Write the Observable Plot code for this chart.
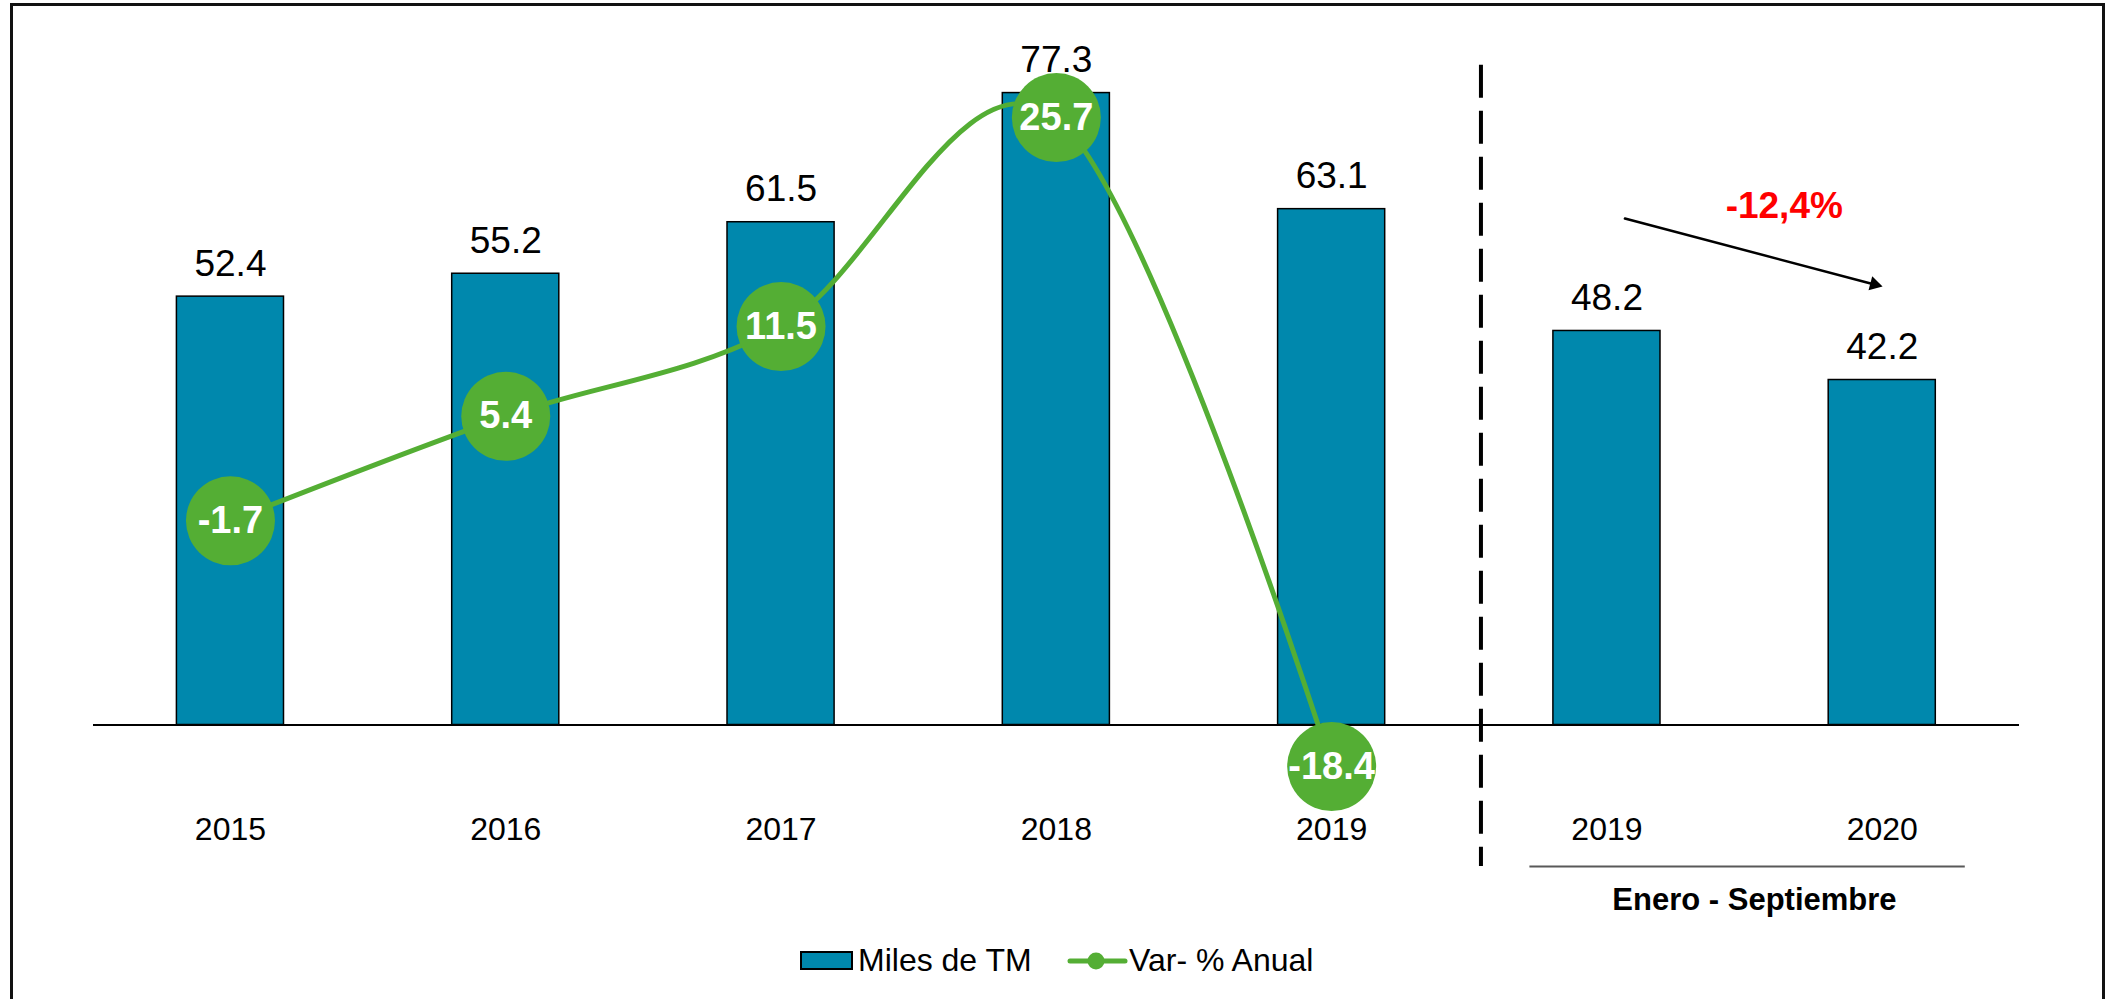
<!DOCTYPE html>
<html>
<head>
<meta charset="utf-8">
<script src="https://cdn.jsdelivr.net/npm/d3@7"></script>
<script src="https://cdn.jsdelivr.net/npm/@observablehq/plot@0.6"></script>
<style>
  html, body { margin: 0; padding: 0; background: #fff; }
  body { width: 2110px; height: 999px; overflow: hidden; position: relative;
         font-family: "Liberation Sans", Arial, sans-serif; }
  #chart { position: absolute; left: 0; top: 0; }
  #frame { position: absolute; left: 10px; top: 3px; width: 2095px; height: 1010px;
           border: 3px solid #111; box-sizing: border-box; pointer-events: none; }
  #legend { position: absolute; left: 0; top: 940px; width: 2110px; height: 50px; }
  .lg-item { position: absolute; font-size: 32px; line-height: 32px; color: #000; white-space: nowrap; }
  .lg-swatch { position: absolute; box-sizing: border-box; border: 2px solid #000; background: #0088AD; }
</style>
</head>
<body>
<div id="chart"></div>
<div id="legend">
  <div class="lg-swatch" style="left:800px; top:11px; width:53px; height:19px;"></div>
  <div class="lg-item" id="lg1" style="left:858px; top:4px;"></div>
  <svg style="position:absolute; left:1067px; top:10px;" width="62" height="22">
    <line x1="3" y1="11" x2="58" y2="11" stroke="#54AE34" stroke-width="5" stroke-linecap="round"></line>
    <circle cx="29" cy="11" r="8.5" fill="#54AE34"></circle>
  </svg>
  <div class="lg-item" id="lg2" style="left:1129px; top:4px;"></div>
</div>
<div id="frame"></div>
<script>
// ---- Data ----
const categories = ["2015", "2016", "2017", "2018", "2019", "2019 Ene-Sep", "2020 Ene-Sep"];
const tickLabels = ["2015", "2016", "2017", "2018", "2019", "2019", "2020"];
const milesTM = [52.4, 55.2, 61.5, 77.3, 63.1, 48.2, 42.2];
const varCategories = ["2015", "2016", "2017", "2018", "2019"];
const varPct = [-1.7, 5.4, 11.5, 25.7, -18.4];
const seriesNames = ["Miles de TM", "Var- % Anual"];
const periodLabel = "Enero - Septiembre";
const changeLabel = "-12,4%";

// ---- Styles ----
const barColor = "#0088AD";
const lineColor = "#54AE34";
const font = "'Liberation Sans', Arial, sans-serif";

// Secondary (percentage) axis aligned onto the primary value axis
const pctAxis = {zero: 28.04, perPoint: 1.8};
const pctToPrimary = p => pctAxis.zero + pctAxis.perPoint * p;

const barRows = categories.map((c, i) => ({cat: c, value: milesTM[i]}));
const varRows = varCategories.map((c, i) => ({cat: c, pct: varPct[i]}));
const labelOf = new Map(categories.map((c, i) => [c, tickLabels[i]]));

document.getElementById("lg1").textContent = seriesNames[0];
document.getElementById("lg2").textContent = seriesNames[1];

// annotation anchors (in data units of the primary axis)
const sepRow = [{x: categories[5], y1: 80.7, y2: -17.3}];
const bracketRow = [{x1: categories[5], x2: categories[6], y: -17.3}];
const periodRow = [{x: categories[5], y: -22.6, text: periodLabel}];
const arrowRow = [{x1: categories[5], y1: 62.54, x2: categories[6], y2: 53.64}];
const changeRow = [{x: categories[6], y: 62.07, text: changeLabel}];

const plot = Plot.plot({
  width: 2110,
  height: 940,
  marginLeft: 93,
  marginRight: 91,
  marginTop: 0,
  marginBottom: 215.5,
  style: {fontFamily: font, background: "transparent", overflow: "visible", color: "#000"},
  x: {domain: categories, range: [8.2, 2103.5], padding: 0.611, align: 0.5, round: false, label: null, axis: null},
  y: {domain: [0, 80], range: [724.5, 70.5], axis: null},
  marks: [
    Plot.barY(barRows, {x: "cat", y: "value", fill: barColor, stroke: "#000", strokeWidth: 1.5}),
    Plot.ruleY([0], {stroke: "#000", strokeWidth: 2}),
    Plot.text(barRows, {x: "cat", y: "value", text: d => d.value.toFixed(1), lineAnchor: "bottom", dy: -21, fontSize: 37, fill: "#000"}),
    Plot.line(varRows, {x: "cat", y: d => pctToPrimary(d.pct), stroke: lineColor, strokeWidth: 5, curve: d3.curveCardinal.tension(0)}),
    Plot.dot(varRows, {x: "cat", y: d => pctToPrimary(d.pct), r: 44.5, fill: lineColor, stroke: null}),
    Plot.text(varRows, {x: "cat", y: d => pctToPrimary(d.pct), text: d => d.pct.toFixed(1), fontSize: 38, fontWeight: "bold", fill: "#fff"}),
    Plot.ruleX(sepRow, {x: "x", y1: "y1", y2: "y2", dx: -126, stroke: "#000", strokeWidth: 4, strokeDasharray: "33,13"}),
    Plot.ruleY(bracketRow, {x1: "x1", x2: "x2", y: "y", insetLeft: -23.5, insetRight: -29.5, stroke: "#595959", strokeWidth: 2}),
    Plot.text(periodRow, {x: "x", y: "y", text: "text", dx: 147.5, lineAnchor: "bottom", fontSize: 31, fontWeight: "bold", fill: "#000"}),
    Plot.arrow(arrowRow, {x1: "x1", y1: "y1", x2: "x2", y2: "y2", insetStart: 18.6, insetEnd: 10, headLength: 0, stroke: "#000", strokeWidth: 2.5}),
    Plot.dot(arrowRow, {x: "x2", y: "y2", symbol: "triangle", r: 5.4, rotate: 104.8, dx: -7.8, dy: -2.1, fill: "#000", stroke: null}),
    Plot.text(changeRow, {x: "x", y: "y", text: "text", dx: -98, lineAnchor: "bottom", fontSize: 37, fontWeight: "bold", fill: "#FF0000"}),
    Plot.axisX({tickSize: 0, tickPadding: 92, fontSize: 32, tickFormat: d => labelOf.get(d), fill: "#000", label: null})
  ]
});
document.getElementById("chart").appendChild(plot);
</script>
</body>
</html>
